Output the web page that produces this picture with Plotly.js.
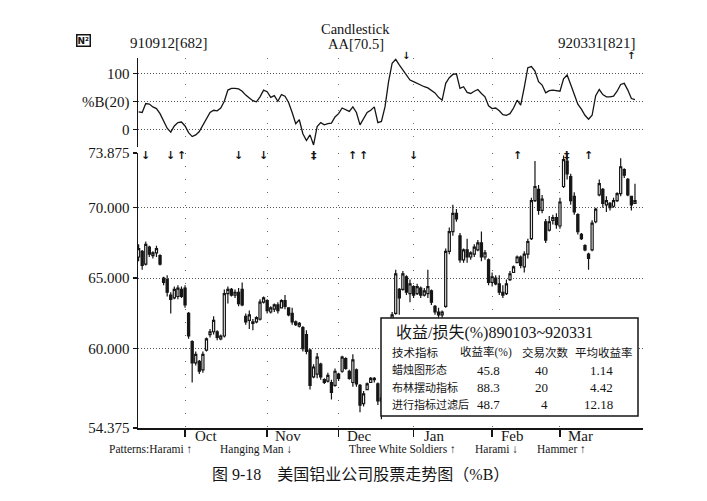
<!DOCTYPE html>
<html>
<head>
<meta charset="utf-8">
<script src="https://cdn.plot.ly/plotly-3.0.1.min.js"></script>
<style>
  html, body { margin: 0; padding: 0; background: #fff; }
  #chart { width: 707px; height: 501px; }
</style>
</head>
<body>
<div id="chart"></div>
<script>
// AA daily bars 910912[682] .. 920331[821]
var open  = [66.5,66.9,66.0,67.2,66.6,66.8,66.6,65.0,64.9,63.8, 63.6,63.7,64.2,64.3,62.5,60.5,59.0,59.1,58.5,59.9,
             61.0,61.2,61.2,60.7,60.9,63.9,64.2,63.8,64.0,64.2, 62.3,62.0,61.9,61.9,62.1,63.3,63.4,62.6,62.8,63.1,
             62.9,63.4,62.9,62.5,61.9,61.6,61.5,61.0,59.9,58.0, 58.2,58.9,57.8,57.7,57.6,57.4,58.2,58.4,59.3,58.4,
             57.6,58.5,57.4,56.1,57.1,57.6,57.8,57.5,56.3,56.6, 58.2,60.3,62.5,64.2,64.2,65.1,63.9,64.4,63.9,64.3,
             63.8,63.9,64.1,63.0,62.6,62.4,63.0,66.9,68.3,69.6, 68.0,66.3,67.0,66.5,66.7,67.0,67.5,66.5,66.3,64.7,
             65.0,64.6,64.0,63.9,64.9,65.4,66.1,66.5,65.8,66.7, 67.8,70.5,71.3,69.8,69.0,68.4,69.1,69.3,68.7,71.5,
             73.3,72.2,70.8,69.5,68.1,67.3,66.7,67.0,69.0,70.9, 71.3,70.2,70.3,70.1,70.5,71.0,72.7,72.0,70.8,70.3];
var high  = [67.4,67.0,67.6,67.3,66.9,67.3,66.7,65.1,65.2,64.0, 64.4,64.5,64.4,64.5,62.6,60.6,59.8,59.2,59.8,60.8,
             61.4,62.3,61.3,61.0,64.2,64.4,64.3,64.2,64.3,64.7, 62.5,62.7,62.1,62.3,63.5,63.7,63.5,63.0,63.2,63.3,
             63.5,63.8,62.9,62.9,62.0,61.9,61.6,61.3,60.0,58.9, 59.7,59.0,57.9,58.3,57.8,58.6,58.3,59.5,59.4,58.5,
             59.6,58.6,57.5,57.0,57.6,58.0,58.0,57.6,56.8,58.3, 60.5,62.6,65.6,64.3,65.5,65.2,64.9,64.5,64.6,64.4,
             64.3,65.6,64.2,63.1,62.9,62.7,67.1,68.6,70.2,69.9, 68.2,67.1,67.8,66.9,67.4,67.7,68.3,67.0,66.4,65.4,
             65.2,65.2,64.5,64.9,65.5,65.9,66.6,66.6,66.9,67.8, 70.7,73.3,71.6,70.9,69.2,69.4,69.5,69.6,70.7,73.7,
             73.8,72.4,71.1,69.6,68.2,67.4,66.8,69.1,70.0,72.0, 71.4,70.8,70.4,70.7,71.1,73.5,72.8,72.1,70.8,71.7];
var low   = [66.2,65.6,65.9,66.5,66.4,66.5,65.9,64.5,63.7,62.5, 63.5,63.5,63.6,62.9,60.7,57.6,58.8,58.2,58.3,59.8,
             60.8,61.0,60.6,60.6,60.8,63.2,63.7,63.6,63.0,63.0, 61.7,61.4,61.3,61.8,62.0,63.2,62.5,62.5,62.6,62.5,
             62.9,62.8,62.3,61.7,61.6,61.5,59.8,59.6,57.1,57.9, 57.9,57.8,57.5,57.6,56.4,57.3,57.7,58.3,58.5,57.8,
             57.3,57.3,55.5,55.9,57.1,57.6,57.6,56.0,55.0,56.5, 58.0,60.0,62.4,62.4,64.1,63.8,63.3,63.6,63.8,63.6,
             63.7,63.6,63.1,62.4,62.2,62.2,62.9,66.7,68.0,69.0, 66.1,66.1,66.1,66.3,66.5,66.9,66.2,66.3,64.5,64.4,
             64.5,63.8,63.6,63.8,64.8,65.4,66.1,65.7,65.4,66.4, 67.7,70.4,69.5,69.6,67.5,68.3,68.8,68.5,68.5,71.4,
             72.0,70.2,69.5,68.1,67.7,66.9,65.6,66.9,68.9,70.8, 70.0,69.7,69.8,70.0,70.4,70.8,72.1,70.8,69.8,70.3];
var close = [67.1,65.9,67.4,66.7,66.8,67.1,66.0,64.7,64.0,63.5, 64.2,64.3,63.7,63.1,60.9,59.0,59.6,58.4,59.6,60.7,
             61.2,62.0,60.8,60.9,63.9,64.2,63.8,64.0,63.2,63.1, 61.9,62.4,61.8,62.2,63.3,63.6,62.7,62.9,63.1,62.7,
             63.4,63.0,62.4,61.9,61.7,61.8,60.0,59.8,57.4,58.7, 59.4,58.0,57.6,58.1,56.9,58.4,57.9,59.4,58.6,57.9,
             59.2,57.5,56.0,56.8,57.5,57.9,57.9,56.3,56.5,58.1, 60.3,62.4,65.3,63.6,65.3,64.0,64.6,63.8,64.4,63.8,
             64.1,64.4,63.3,62.6,62.4,62.6,66.9,68.3,69.6,69.2, 66.3,67.0,66.5,66.8,67.2,67.5,66.5,66.8,64.7,65.1,
             64.6,64.0,63.8,64.6,65.3,65.8,66.5,65.9,66.7,67.6, 70.5,71.5,69.8,70.6,67.7,69.0,69.3,68.8,70.4,73.4,
             72.4,70.5,69.7,68.3,67.8,67.0,66.4,68.9,69.9,71.7, 70.3,70.5,70.0,70.5,71.0,72.9,72.3,70.9,70.2,70.5];

// %B(20)
var pctB  = [31,30,46,45,40,37,28,15,2,-5, 6,12,13,6,-6,-13,-10,-4,7,20,
             30,34,33,38,50,70,73,73,72,68, 61,56,51,49,58,70,67,57,60,50,
             62,59,48,30,10,17,-8,-20,-10,-28, 5,12,8,10,11,22,28,38,35,32,
             40,30,8,18,30,34,40,12,14,40, 85,118,125,115,106,95,88,85,82,78,
             76,74,70,65,57,52,82,92,98,99, 73,76,66,64,68,71,64,58,42,37,
             38,33,26,25,28,38,52,43,75,110, 112,104,85,79,65,69,70,69,68,90,
             97,80,64,45,36,25,18,25,60,71, 62,58,58,59,68,80,82,70,55,53];

var monthNames = ['Oct', 'Nov', 'Dec', 'Jan', 'Feb', 'Mar'];
var monthIdx   = [13, 36, 56, 77, 99, 118];

var priceTicks    = [54.375, 60, 65, 70, 73.875];
var priceTickText = ['54.375', '60.000', '65.000', '70.000', '73.875'];
var priceGrid     = [60, 65, 70];

var bTicks    = [0, 50, 100];
var bTickText = ['0', '%B(20)', '100'];

// pattern signals on the price panel and on %B
var signalIdx = [2, 9, 12, 28, 35, 49, 60, 63, 77, 106, 120, 126];
var signalDir = ['↓', '↓', '↑', '↓', '↓', '‡', '↑', '↑', '↓', '↑', '‡', '↑'];
var bSignalIdx = [75, 138];
var bSignalDir = ['↓', '↑'];

var startLabel = '910912[682]';
var endLabel   = '920331[821]';
var chartName  = 'Candlestick';
var symbolLabel = 'AA[70.5]';

var patternText = ['Patterns:Harami ↑', 'Hanging Man ↓', 'Three White Soldiers ↑', 'Harami ↓', 'Hammer ↑'];

var tableTitle = '收益/损失(%)890103~920331';
var tableHead  = ['技术指标', '收益率(%)', '交易次数', '平均收益率'];
var ruleNames  = ['蜡烛图形态', '布林摆动指标', '进行指标过滤后'];
var ruleReturn = [45.8, 88.3, 48.7];
var ruleTrades = [40, 20, 4];
var ruleAvg    = [1.14, 4.42, 12.18];

var caption = '图 9-18　美国铝业公司股票走势图（%B）';

var days = [];
for (var i = 0; i < close.length; i++) days.push(i);

var W = 707, H = 501;
function px(x) { return x / W; }
function py(y) { return 1 - y / H; }

var ink = '#151515';
var serif = 'Liberation Serif, Noto Sans CJK SC, serif';
var cjk = 'Liberation Serif, Noto Sans CJK SC, sans-serif';

var candles = {
  type: 'candlestick',
  x: days, open: open, high: high, low: low, close: close,
  xaxis: 'x', yaxis: 'y',
  increasing: {line: {color: ink, width: 1.2}, fillcolor: '#fff'},
  decreasing: {line: {color: ink, width: 1.2}, fillcolor: ink},
  whiskerwidth: 0,
  hoverinfo: 'skip'
};

var bLine = {
  type: 'scatter', mode: 'lines',
  x: days, y: pctB,
  xaxis: 'x2', yaxis: 'y2',
  line: {color: ink, width: 1.3},
  hoverinfo: 'skip'
};

var ann = [];
function txt(x, y, s, o) {
  var a = {x: px(x), y: py(y), xref: 'paper', yref: 'paper', text: s, showarrow: false,
           font: {family: serif, size: 15, color: ink}, xanchor: 'center', yanchor: 'middle'};
  for (var k in o) a[k] = o[k];
  ann.push(a);
}

// header
txt(356, 29, chartName, {font: {family: serif, size: 14.5, color: ink}});
txt(356, 44, symbolLabel, {font: {family: serif, size: 14.5, color: ink}});
txt(128, 43, startLabel, {xanchor: 'left'});
txt(638, 43, endLabel, {xanchor: 'right'});
txt(83, 41, '<b>N²</b>', {font: {family: 'DejaVu Sans', size: 9, color: ink},
    bordercolor: ink, borderwidth: 1.5, borderpad: 0});

// signal arrows
for (var s = 0; s < signalIdx.length; s++) {
  ann.push({x: signalIdx[s], y: 73.875, xref: 'x', yref: 'y', text: '<b>' + signalDir[s] + '</b>',
            showarrow: false, xanchor: 'center', yanchor: 'middle', yshift: -2,
            font: {family: 'DejaVu Sans', size: 11, color: ink}});
}
for (var s = 0; s < bSignalIdx.length; s++) {
  ann.push({x: bSignalIdx[s], y: py(56), xref: 'x', yref: 'paper', text: '<b>' + bSignalDir[s] + '</b>',
            showarrow: false, xanchor: 'center', yanchor: 'middle',
            font: {family: 'DejaVu Sans', size: 10, color: ink}});
}

// month labels sit to the right of their tick
for (var m = 0; m < monthNames.length; m++) {
  ann.push({x: monthIdx[m] + 5.8, y: py(436), xref: 'x', yref: 'paper', text: monthNames[m],
            showarrow: false, xanchor: 'center', yanchor: 'middle',
            font: {family: serif, size: 15, color: ink}});
}

// pattern legend
var patX = [107, 218, 347, 473, 535];
for (var p = 0; p < patternText.length; p++) {
  txt(patX[p], 449, patternText[p], {xanchor: 'left', font: {family: serif, size: 11.5, color: ink}});
}

// results table
txt(394, 333, tableTitle, {xanchor: 'left', font: {family: cjk, size: 16, color: ink}});
txt(390, 352, tableHead[0], {xanchor: 'left', font: {family: cjk, size: 11.5, color: ink}});
txt(486, 352, tableHead[1], {font: {family: cjk, size: 11.5, color: ink}});
txt(545, 352, tableHead[2], {font: {family: cjk, size: 11.5, color: ink}});
txt(604, 352, tableHead[3], {font: {family: cjk, size: 11.5, color: ink}});
var rowY = [370, 387, 404];
for (var r = 0; r < ruleNames.length; r++) {
  txt(390, rowY[r], ruleNames[r], {xanchor: 'left', font: {family: cjk, size: 11, color: ink}});
  txt(502, rowY[r], ruleReturn[r].toFixed(1), {xanchor: 'right', font: {family: serif, size: 13, color: ink}});
  txt(550, rowY[r], String(ruleTrades[r]), {xanchor: 'right', font: {family: serif, size: 13, color: ink}});
  txt(615, rowY[r], ruleAvg[r].toFixed(2), {xanchor: 'right', font: {family: serif, size: 13, color: ink}});
}

txt(360, 474, caption, {font: {family: cjk, size: 16, color: ink}});

var xr = [-0.17, 141.25];
var layout = {
  width: W, height: H,
  margin: {l: 0, r: 0, t: 0, b: 0},
  paper_bgcolor: '#fff', plot_bgcolor: 'rgba(0,0,0,0)',
  showlegend: false,
  boxgap: 0.15,
  font: {family: serif, size: 15, color: ink},
  xaxis: {
    domain: [px(138), px(643)], range: xr, anchor: 'y',
    tickmode: 'array', tickvals: monthIdx, showticklabels: false,
    ticks: 'outside', ticklen: 7, tickwidth: 1.5, tickcolor: ink,
    showline: true, linecolor: ink, linewidth: 1.5,
    showgrid: true, gridcolor: '#666', gridwidth: 1, griddash: '1px,12px',
    zeroline: false, rangeslider: {visible: false}, fixedrange: true
  },
  yaxis: {
    domain: [py(428), py(153)], range: [54.375, 73.875], anchor: 'x',
    tickmode: 'array', tickvals: priceTicks, ticktext: priceTickText,
    ticks: 'outside', ticklen: 4, tickwidth: 1.5, tickcolor: ink,
    tickfont: {family: serif, size: 15, color: ink},
    showline: true, linecolor: ink, linewidth: 1.5,
    showgrid: false, zeroline: false, fixedrange: true,
    minor: {tickmode: 'array', tickvals: priceGrid, showgrid: true, gridcolor: '#555',
            gridwidth: 1, griddash: '1px,2px', ticks: ''}
  },
  xaxis2: {
    domain: [px(138), px(643)], range: xr, anchor: 'y2',
    tickmode: 'array', tickvals: monthIdx, showticklabels: false, ticks: '',
    showline: false, showgrid: true, gridcolor: '#777', gridwidth: 1, griddash: '1px,12px',
    zeroline: false, fixedrange: true
  },
  yaxis2: {
    domain: [py(147), py(58)], range: [-31.6, 127.3], anchor: 'x2',
    tickmode: 'array', tickvals: bTicks, ticktext: bTickText,
    ticks: 'outside', ticklen: 4, tickwidth: 1.5, tickcolor: ink,
    tickfont: {family: serif, size: 15, color: ink},
    showline: true, linecolor: ink, linewidth: 1.5,
    showgrid: true, gridcolor: '#555', gridwidth: 1, griddash: '1px,2px',
    zeroline: false, fixedrange: true
  },
  shapes: [{
    type: 'rect', xref: 'paper', yref: 'paper',
    x0: px(381), x1: px(638), y0: py(416), y1: py(318),
    fillcolor: '#fff', line: {color: ink, width: 1.5}, layer: 'above'
  }],
  annotations: ann
};

Plotly.newPlot('chart', [candles, bLine], layout, {staticPlot: true, displayModeBar: false});
</script>
</body>
</html>
